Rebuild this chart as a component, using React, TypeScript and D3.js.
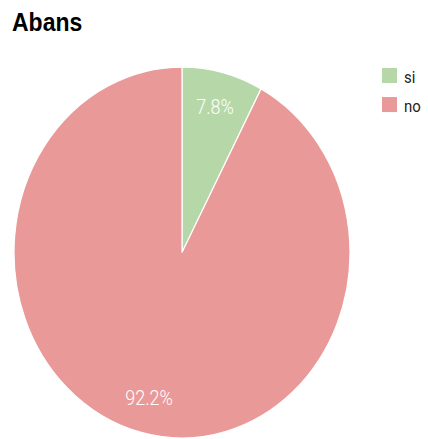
import React from "react";
import * as d3 from "d3";

const categories = ["si", "no"];
const values = [7.8, 92.2];
const colors = ["#b6d7a8", "#ea9999"];
const title = "Abans";

const W = 428;
const H = 439;
const SY = 1.104;

export default function App() {
  const cx = 182;
  const cy = 228.7;
  const r = 168;
  const pie = d3.pie<number>().sort(null).value((d) => d)(values);
  const arc = d3.arc<d3.PieArcDatum<number>>().innerRadius(0).outerRadius(r);
  const labelArc = d3
    .arc<d3.PieArcDatum<number>>()
    .innerRadius(r * 0.81)
    .outerRadius(r * 0.81);
  const total = d3.sum(values);
  const fmt = (v: number) => `${((v / total) * 100).toFixed(1)}%`;

  return (
    <svg
      width={W}
      height={H}
      style={{ position: "absolute", left: 0, top: 0, background: "#fff" }}
    >
      <g transform={`scale(1,${SY})`}>
        <text
          x={12}
          y={28}
          fontFamily="Liberation Sans, Arial, sans-serif"
          fontWeight="bold"
          fontSize={23}
          fill="#000"
        >
          {title}
        </text>
        <g transform={`translate(${cx},${cy})`}>
          {pie.map((p, i) => (
            <path
              key={categories[i]}
              d={arc(p) || ""}
              fill={colors[i]}
              stroke="#ffffff"
              strokeWidth={1.2}
            />
          ))}
          {pie.map((p, i) => {
            const [lx, ly] = labelArc.centroid(p);
            return (
              <text
                key={"l" + categories[i]}
                x={lx}
                y={ly}
                dy="0.36em"
                textAnchor="middle"
                fontFamily="Roboto, sans-serif"
                fontWeight={300}
                fontSize={18}
                fill="#ffffff"
              >
                {fmt(p.value)}
              </text>
            );
          })}
        </g>
        <g>
          {categories.map((c, i) => (
            <g key={"leg" + c} transform={`translate(382,${61.6 + i * 26.3})`}>
              <rect width={15} height={13.6} fill={colors[i]} />
              <text
                x={22}
                y={13.4}
                fontFamily="Roboto, sans-serif"
                fontSize={15}
                fill="#222"
              >
                {c}
              </text>
            </g>
          ))}
        </g>
      </g>
    </svg>
  );
}
